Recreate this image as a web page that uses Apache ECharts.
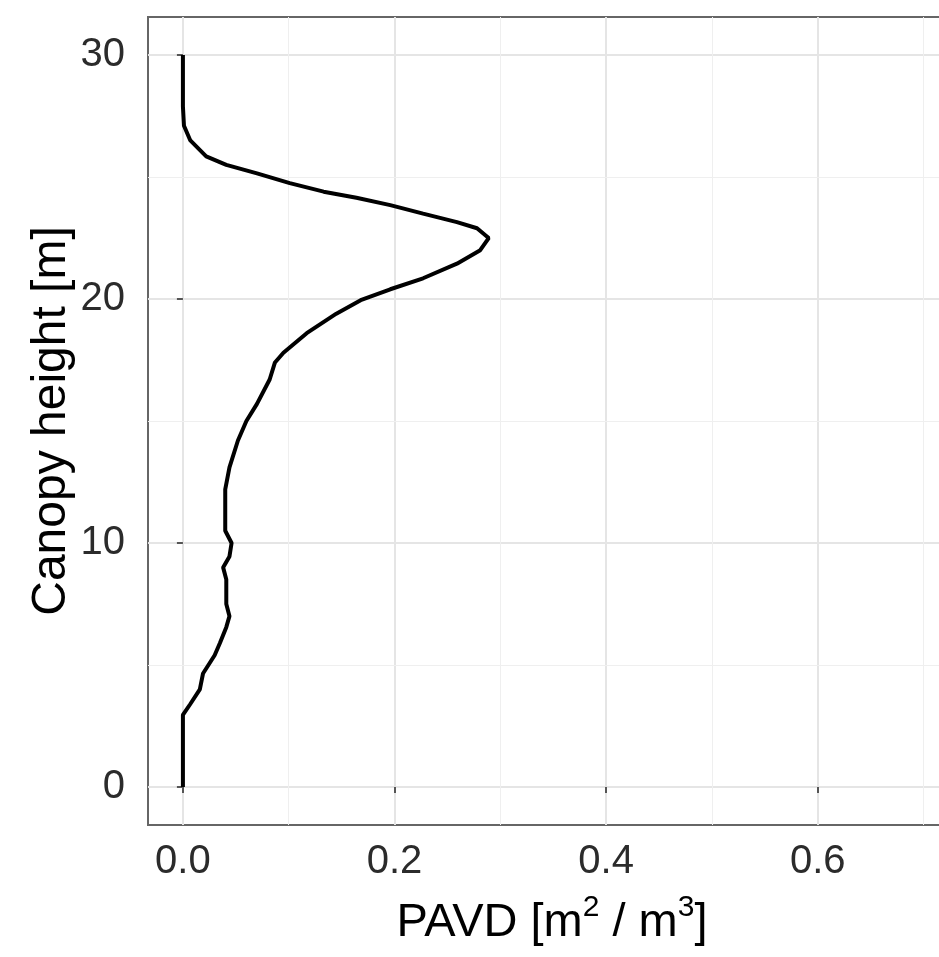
<!DOCTYPE html>
<html>
<head>
<meta charset="utf-8">
<script src="https://cdn.jsdelivr.net/npm/echarts@6/dist/echarts.min.js"></script>
<style>
  html, body { margin: 0; padding: 0; background: #fff; overflow: hidden; }
  #chart { width: 939px; height: 957px; }
</style>
</head>
<body>
<div id="chart"></div>
<script>
// canopy height [m] and the PAVD read at that height
const heights = [0, 2.95, 3.4, 4.0, 4.65, 5.4, 5.9, 6.55, 7.0, 7.5, 8.5, 9.0, 9.45, 10.0, 10.5,
  12.2, 13.1, 14.2, 15.0, 15.7, 16.7, 17.4, 17.8, 18.6, 19.4, 19.95, 20.4, 20.85, 21.45,
  22.0, 22.5, 22.9, 23.15, 23.5, 23.85, 24.15, 24.4, 24.75, 25.15, 25.5, 25.85, 26.5,
  27.1, 27.9, 30.0];
const pavd = [0, 0, 0.007, 0.016, 0.019, 0.030, 0.035, 0.041, 0.044, 0.041, 0.041, 0.038, 0.044, 0.046, 0.040,
  0.040, 0.044, 0.052, 0.060, 0.070, 0.082, 0.087, 0.095, 0.117, 0.145, 0.168, 0.196, 0.227, 0.259,
  0.281, 0.289, 0.278, 0.259, 0.227, 0.196, 0.164, 0.133, 0.101, 0.070, 0.041, 0.022, 0.007,
  0.001, 0.0, 0.0];

const xTicks = [0, 0.2, 0.4, 0.6];
const yTicks = [0, 10, 20, 30];
const xMinor = [0.1, 0.3, 0.5, 0.7];
const yMinor = [5, 15, 25];

const chart = echarts.init(document.getElementById('chart'));

const font = 'Liberation Sans, Arial, sans-serif';
const minorLines = xMinor.map(v => ({ xAxis: v })).concat(yMinor.map(v => ({ yAxis: v })));

const option = {
  animation: false,
  backgroundColor: '#ffffff',
  // panel runs past the right edge of the picture, like the cropped original
  grid: {
    left: 148, top: 17, width: 808, height: 808,
    outerBoundsMode: 'none',
    containLabel: false,
    show: true, borderColor: '#666', borderWidth: 2, backgroundColor: 'transparent'
  },
  xAxis: {
    type: 'value',
    min: -0.033, max: 0.7307,
    splitNumber: 4,
    name: '{t|PAVD [m}{s|2}{sl| / }{t|m}{s|3}{t|]}',
    nameLocation: 'middle',
    nameGap: 68,
    nameTextStyle: {
      rich: {
        t: { fontFamily: font, fontSize: 47, color: '#000', lineHeight: 54, verticalAlign: 'bottom' },
        sl: { fontFamily: font, fontSize: 47, color: '#000', lineHeight: 54, verticalAlign: 'bottom' },
        s: { fontFamily: font, fontSize: 30, color: '#000', lineHeight: 54, verticalAlign: 'top' }
      }
    },
    axisLine: { show: false },
    axisTick: { show: true, customValues: xTicks, length: 6, lineStyle: { color: '#555', width: 2 } },
    axisLabel: {
      customValues: xTicks,
      formatter: v => v.toFixed(1),
      fontFamily: font, fontSize: 40, color: '#2b2b2b', margin: 17
    },
    splitLine: { show: true, lineStyle: { color: '#e5e5e5', width: 2 } }
  },
  yAxis: {
    type: 'value',
    min: -1.56, max: 31.56,
    splitNumber: 4,
    name: 'Canopy height [m]',
    nameLocation: 'middle',
    nameGap: 72,
    nameMoveOverlap: false,
    nameTextStyle: { fontFamily: font, fontSize: 48, color: '#000' },
    axisLine: { show: false },
    axisTick: { show: true, customValues: yTicks, length: 6, lineStyle: { color: '#555', width: 2 } },
    axisLabel: {
      customValues: yTicks,
      fontFamily: font, fontSize: 40, color: '#2b2b2b', margin: 23
    },
    splitLine: { show: true, lineStyle: { color: '#e5e5e5', width: 2 } }
  },
  series: [
    {
      // minor grid lines
      type: 'line',
      data: [],
      z: 1,
      silent: true,
      markLine: {
        silent: true,
        z: 1,
        symbol: 'none',
        label: { show: false },
        lineStyle: { color: '#efefef', width: 1, type: 'solid' },
        data: minorLines
      }
    },
    {
      type: 'line',
      z: 3,
      data: heights.map((h, i) => [pavd[i], h]),
      showSymbol: false,
      lineStyle: { color: '#000', width: 4 },
      smooth: false
    }
  ]
};

chart.setOption(option);
</script>
</body>
</html>
